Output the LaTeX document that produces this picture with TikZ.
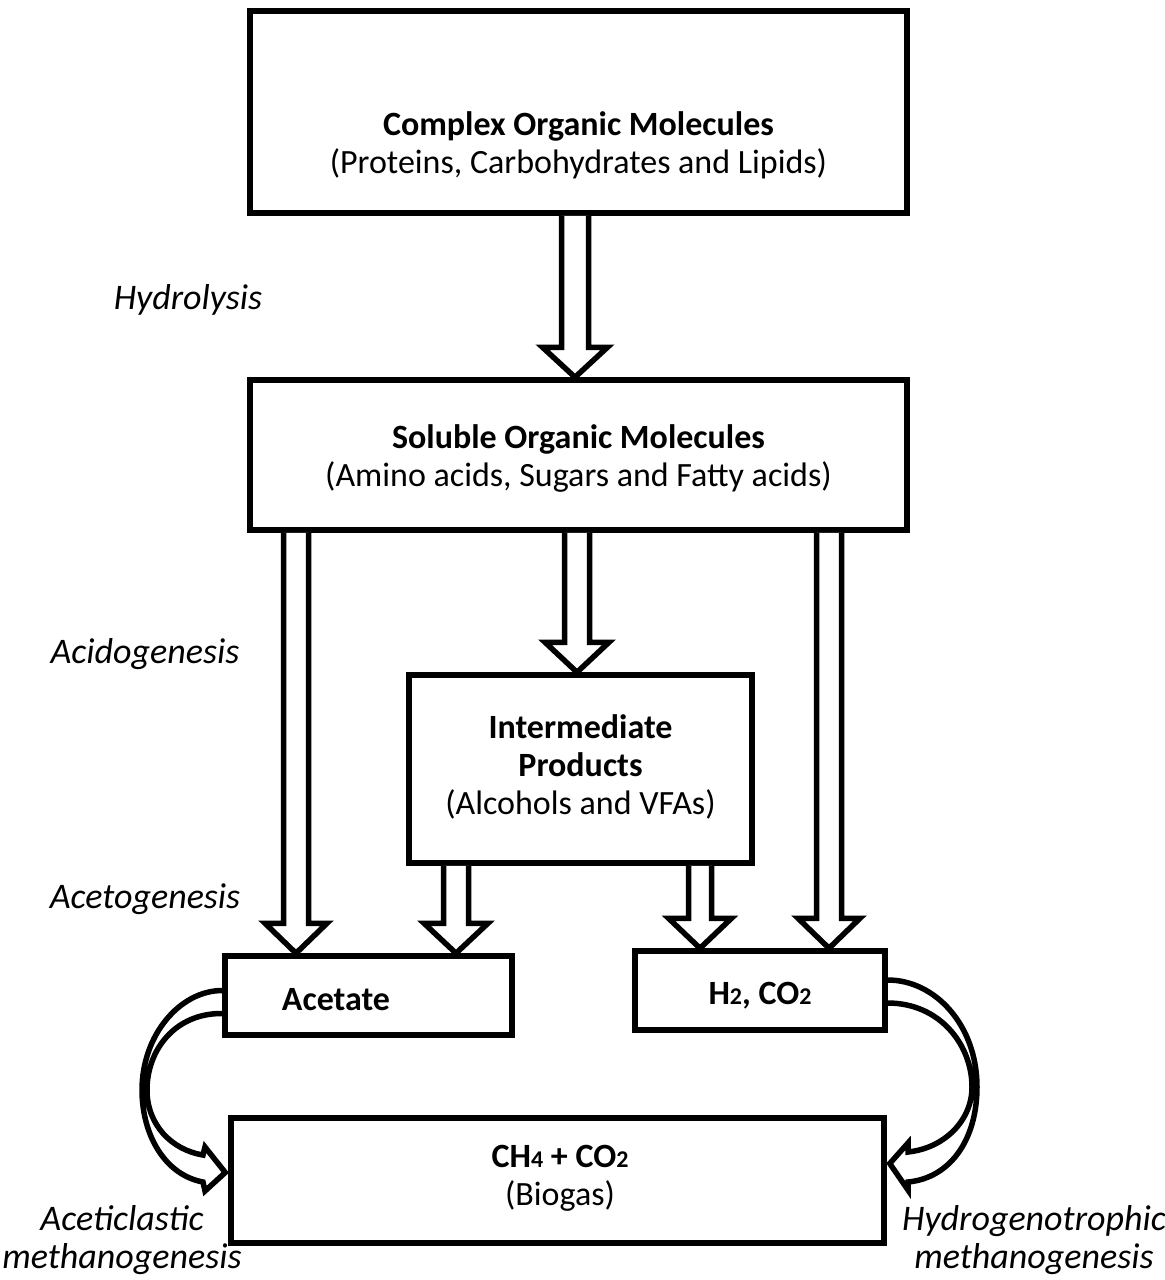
\documentclass[tikz,border=0pt]{standalone}
\usepackage{fontspec}
\setmainfont{Carlito}
\usetikzlibrary{calc}
\newcommand\mysub[1]{{\fontsize{12}{12}\selectfont #1}}
\newcommand\blockdown[4][6.25pt]{%
  \draw[blk] let \p1=(#3), \p2=(#4) in
    (\x1-#1,\y1) -- (\x1-#1,\y2+15pt) -- (\x1-#2,\y2+15pt) -- (\x1,\y2)
    -- (\x1+#2,\y2+15pt) -- (\x1+#1,\y2+15pt) -- (\x1+#1,\y1);}
\begin{document}
\begin{tikzpicture}[x=0.5pt,y=-0.5pt,
  font=\fontsize{17}{19}\selectfont,
  box/.style={draw, line width=2.75pt, inner sep=0pt},
  txt/.style={align=center, inner sep=0pt},
  lab/.style={align=center, inner sep=0pt, font=\fontsize{18}{19}\selectfont\itshape},
  blk/.style={draw, fill=white, line width=2.75pt, line join=miter}]
\path[use as bounding box] (0,0) rectangle (1165,1280);

% boxes
\node[box, minimum width=328.5pt, minimum height=101pt] (cplx) at (578.5,112) {};
\node[txt] (cplxt) at (578.5,145) {\textbf{Complex Organic Molecules}\\(Proteins, Carbohydrates and Lipids)};
\node[box, minimum width=328.5pt, minimum height=75pt] (som) at (578.5,455) {};
\node[txt] (somt) at (578.5,458) {\textbf{Soluble Organic Molecules}\\(Amino acids, Sugars and Fatty acids)};
\node[box, minimum width=171.5pt, minimum height=94pt] (inter) at (580.5,769) {};
\node[txt] (intert) at (580.5,767) {\textbf{Intermediate}\\\textbf{Products}\\(Alcohols and VFAs)};
\node[box, minimum width=143.5pt, minimum height=39.5pt] (acet) at (368.5,995.5) {};
\node[txt] (acett) at (336,1000) {\textbf{Acetate}};
\node[box, minimum width=125pt, minimum height=39.5pt] (h2) at (760,990.5) {};
\node[txt] (h2t) at (760,996) {\textbf{H\mysub{2}, CO\mysub{2}}};
\node[box, minimum width=326.5pt, minimum height=62.5pt] (bio) at (557.5,1180.5) {};
\node[txt] (biot) at (560,1178) {\textbf{CH\mysub{4} + CO\mysub{2}}\\(Biogas)};

% x positions of block arrows
\coordinate (x1) at (575,0);
\coordinate (x2) at (577,0);
\coordinate (xl) at (296,0);
\coordinate (xr) at (829,0);
\coordinate (xil) at (456,0);
\coordinate (xir) at (700,0);

\blockdown[6.75pt]{16.25pt}{cplx.south -| x1}{som.north -| x1}
\blockdown{16pt}{som.south -| x2}{inter.north -| x2}
\blockdown{15.5pt}{som.south -| xl}{acet.north -| xl}
\blockdown{15.5pt}{som.south -| xr}{h2.north -| xr}
\blockdown{16pt}{inter.south -| xil}{acet.north -| xil}
\blockdown[5.75pt]{15.75pt}{inter.south -| xir}{h2.north -| xir}

% curved arrows
\draw[blk, fill=none] ($(acet.west)+(0,18)$) .. controls (175,1013) and (147,1050) .. (147,1090)
  .. controls (147,1125) and (172,1150) .. (203,1155) -- (205,1147)
  -- ($(bio.west)+(-3,-8)$) -- (205,1191) -- (203,1182)
  .. controls (165,1175) and (142,1135) .. (142,1090)
  .. controls (142,1035) and (180,990.5) .. ($(acet.west)+(0,-5)$);
\draw[blk, fill=none] ($(h2.east)+(0,12.5)$) .. controls (940,1003) and (972,1045) .. (972,1087)
  .. controls (972,1120) and (945,1148) .. (908,1152) -- (908,1143)
  -- ($(bio.east)+(3,-17)$) -- (908,1190) -- (908,1182)
  .. controls (950,1178) and (977,1140) .. (977,1087)
  .. controls (977,1025) and (935,980) .. ($(h2.east)+(0,-10.5)$);

% labels
\node[lab] (hyd) at (188,300) {Hydrolysis};
\node[lab] (acid) at (145,654) {Acidogenesis};
\node[lab] (acet2) at (145,899) {Acetogenesis};
\node[lab] (acm) at (122,1240) {Aceticlastic\\methanogenesis};
\node[lab] (hym) at (1034,1240) {Hydrogenotrophic\\methanogenesis};
\end{tikzpicture}
\end{document}
